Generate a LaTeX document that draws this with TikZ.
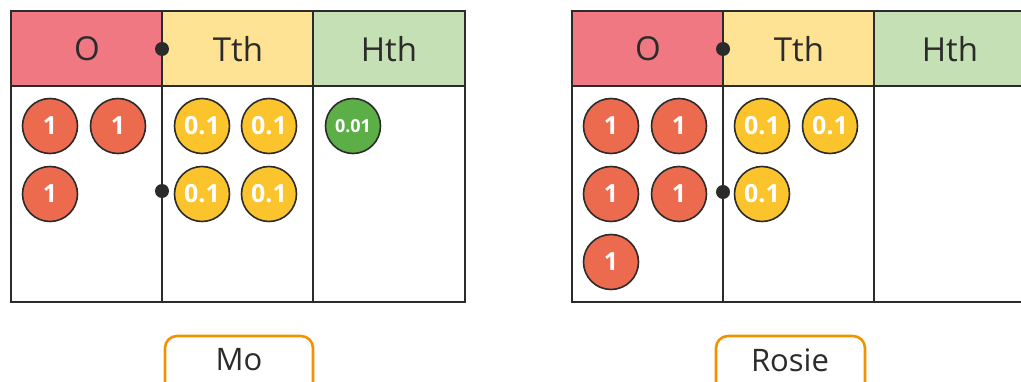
\documentclass[tikz,border=0pt]{standalone}
\usepackage{fontspec}
\setmainfont{Open Sans}
\definecolor{lineC}{HTML}{2B2B2B}
\definecolor{hdrO}{HTML}{EF7882}
\definecolor{hdrT}{HTML}{FEE394}
\definecolor{hdrH}{HTML}{C6E0B5}
\definecolor{cRed}{HTML}{EC6A4E}
\definecolor{cYel}{HTML}{FBC42D}
\definecolor{cGrn}{HTML}{5CAF47}
\definecolor{boxO}{HTML}{F39200}
\tikzset{
  grid/.style={draw=lineC, line width=2.4pt},
  hdr/.style={font=\fontsize{33}{33}\selectfont, text=lineC},
  counter/.style={circle, draw=lineC, line width=1.6pt, minimum size=55pt, inner sep=0pt, text=white, font=\bfseries\fontsize{25}{25}\selectfont},
  ones/.style={counter, fill=cRed},
  tenths/.style={counter, fill=cYel},
  hundredths/.style={counter, fill=cGrn, font=\bfseries\fontsize{18}{18}\selectfont},
  pin/.style={circle, fill=lineC, inner sep=0pt, minimum size=14pt},
  namebox/.style={draw=boxO, line width=2.6pt, rounded corners=12pt},
  namelbl/.style={font=\fontsize{31}{31}\selectfont, text=lineC},
}
\begin{document}
\begin{tikzpicture}[x=1pt,y=-1pt]
\useasboundingbox (0,0) rectangle (1021,382);
\clip (0,0) rectangle (1021,382);
% ---------- left table (Mo) ----------
\fill[hdrO] (11,11) rectangle (162,86);
\fill[hdrT] (162,11) rectangle (313,86);
\fill[hdrH] (313,11) rectangle (465,86);
\draw[grid] (11,11) rectangle (465,302);
\draw[grid] (11,86) -- (465,86);
\draw[grid] (162,11) -- (162,302);
\draw[grid] (313,11) -- (313,302);
\node[hdr] (lO) at (87,49) {O};
\node[hdr] (lT) at (238,49) {Tth};
\node[hdr] (lH) at (389,49) {Hth};
\node[pin] (lp1) at (162,49) {};
\node[pin] (lp2) at (162,191) {};
\node[ones] (l1) at (50,126) {1};
\node[ones] (l2) at (118,126) {1};
\node[ones] (l3) at (50,194) {1};
\node[tenths] (l4) at (202,126) {0.1};
\node[tenths] (l5) at (269,126) {0.1};
\node[tenths] (l6) at (202,194) {0.1};
\node[tenths] (l7) at (269,194) {0.1};
\node[hundredths] (l8) at (353,126) {0.01};
% ---------- right table (Rosie) ----------
\fill[hdrO] (572,11) rectangle (723,86);
\fill[hdrT] (723,11) rectangle (874,86);
\fill[hdrH] (874,11) rectangle (1026,86);
\draw[grid] (1026,11) -- (572,11) -- (572,302) -- (1026,302);
\draw[grid] (572,86) -- (1026,86);
\draw[grid] (723,11) -- (723,302);
\draw[grid] (874,11) -- (874,302);
\node[hdr] (rO) at (648,49) {O};
\node[hdr] (rT) at (799,49) {Tth};
\node[hdr] (rH) at (950,49) {Hth};
\node[pin] (rp1) at (723,49) {};
\node[pin] (rp2) at (723,192) {};
\node[ones] (r1) at (611,126) {1};
\node[ones] (r2) at (679,126) {1};
\node[ones] (r3) at (611,194) {1};
\node[ones] (r4) at (679,194) {1};
\node[ones] (r5) at (611,262) {1};
\node[tenths] (r6) at (762,126) {0.1};
\node[tenths] (r7) at (830,126) {0.1};
\node[tenths] (r8) at (762,194) {0.1};
% ---------- name boxes ----------
\draw[namebox] (165,336) rectangle (313,400);
\node[namelbl] (mo) at (239,360) {Mo};
\draw[namebox] (716,336) rectangle (865,400);
\node[namelbl] (rosie) at (790,360) {Rosie};
\end{tikzpicture}
\end{document}
